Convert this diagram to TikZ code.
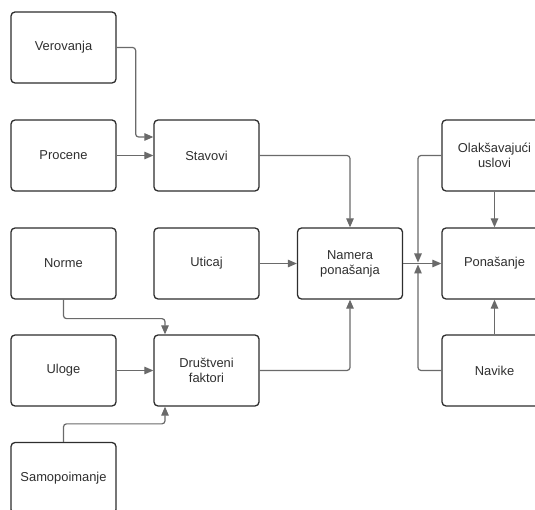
\documentclass[tikz,border=0pt]{standalone}
\usepackage{fontspec}
\setmainfont{Liberation Sans}
\usetikzlibrary{arrows.meta}
\definecolor{boxline}{HTML}{2E2E2E}
\definecolor{txt}{HTML}{2F2F2F}
\definecolor{conn}{HTML}{6A6A6A}
\tikzset{
  box/.style={draw=boxline, line width=1.3pt, rounded corners=4pt,
    minimum width=105pt, minimum height=71pt, inner sep=0pt,
    align=center, text=txt, font=\fontsize{12.9}{15}\selectfont},
  arr/.style={draw=conn, line width=1.2pt, rounded corners=3pt,
    -{Triangle[length=9pt,width=7.5pt]}}
}
\begin{document}
\begin{tikzpicture}[x=1pt,y=-1pt]
\useasboundingbox (0,0) rectangle (535,510);
\fill[white] (0,0) rectangle (535,510);
\clip (0,0) rectangle (535,510);

% first column
\node[box] (ver)  at (63.5,47.5)  {Verovanja};
\node[box] (proc) at (63.5,155.5) {Procene};
\node[box] (nor)  at (63.5,263.5) {Norme};
\node[box] (ulo)  at (63.5,370.5) {Uloge};
\node[box] (samo) at (63.5,478)   {Samopoimanje};

% second column
\node[box] (stav) at (206.5,155.5) {Stavovi};
\node[box] (utic) at (206.5,263.5) {Uticaj};
\node[box] (drus) at (206.5,370.5) {Društveni\\faktori};

% intention
\node[box] (nam) at (350,263.5) {Namera\\ponašanja};

% right column
\node[box] (olak) at (494.5,155.5) {Olakšavajući\\uslovi};
\node[box] (pon)  at (494.5,263.5) {Ponašanje};
\node[box] (nav)  at (494.5,370.5) {Navike};

\coordinate (jn) at (418,263.5);

% connectors
\draw[arr] (ver.east) -- ++(19,0) |- ([yshift=18.5pt]stav.west);
\draw[arr] (proc) -- (stav);
\draw[arr] (stav.east) -| (nam.north);
\draw[arr] (utic) -- (nam);
\draw[arr] (nor.south) -- ++(0,19) -| ([xshift=-41.5pt]drus.north);
\draw[arr] (ulo) -- (drus);
\draw[arr] (samo.north) -- ++(0,-18) -| ([xshift=-41.5pt]drus.south);
\draw[arr] (drus.east) -| (nam.south);
\draw[arr] (nam) -- (pon);
\draw[arr] (olak.west) -| ([yshift=1pt]jn);
\draw[arr] (nav.west) -| ([yshift=-1pt]jn);
\draw[arr] (olak.south) -- (pon.north);
\draw[arr] (nav.north) -- (pon.south);
\end{tikzpicture}
\end{document}
